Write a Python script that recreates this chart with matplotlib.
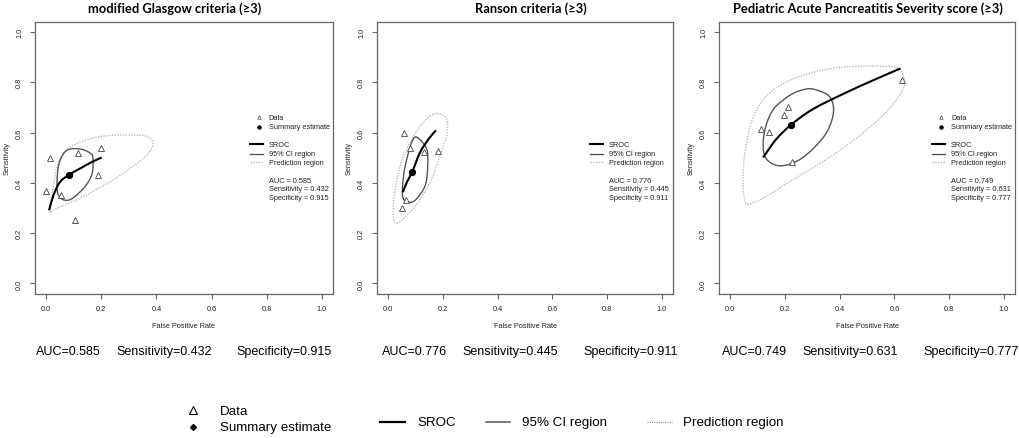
#!/usr/bin/env python3
"""
Bivariate SROC plots for three severity scores (modified Glasgow, Ranson,
Pediatric Acute Pancreatitis Severity score), R/mada style, with the
summary numbers written under each panel and a shared legend at the bottom.

Output: out.png (1020 x 439 px)
"""

import matplotlib
matplotlib.use("Agg")
import matplotlib.pyplot as plt
import matplotlib.font_manager as fm
from matplotlib.path import Path
from matplotlib.patches import PathPatch
from matplotlib.lines import Line2D
import numpy as np

W, H, DPI = 1020, 439, 100

# ── Fonts ─────────────────────────────────────────────────────────────────────
available_fonts = {f.name for f in fm.fontManager.ttflist}
R_FONT = "Liberation Sans" if "Liberation Sans" in available_fonts else "DejaVu Sans"
NARROW = "Liberation Sans Narrow" if "Liberation Sans Narrow" in available_fonts else R_FONT
TITLE_FONT = ["Lato", "DejaVu Sans"] if "Lato" in available_fonts else ["DejaVu Sans"]

plt.rcParams.update({
    "font.family": R_FONT,
    "figure.facecolor": "white",
    "axes.facecolor": "white",
})

# ── Palette ───────────────────────────────────────────────────────────────────
FRAME = "#666666"
CI_GRAY = "#555555"
PRED_GRAY = "#b8b8b8"
POINT_EDGE = "#444444"

# ── Data ──────────────────────────────────────────────────────────────────────
TITLES = ["modified Glasgow criteria (\u22653)", "Ranson criteria (\u22653)",
          "Pediatric Acute Pancreatitis Severity score (\u22653)"]
AUC = [0.585, 0.776, 0.749]
SENS = [0.432, 0.445, 0.631]
SPEC = [0.915, 0.911, 0.777]
TICKS = [0.0, 0.2, 0.4, 0.6, 0.8, 1.0]

# modified Glasgow
GLA_FPR = [0.015, 0.117, 0.200, 0.187, 0.000, 0.054, 0.105]
GLA_TPR = [0.500, 0.520, 0.540, 0.430, 0.367, 0.351, 0.252]
GLA_SROC_X = [0.011, 0.027, 0.051, 0.085, 0.123, 0.166, 0.202]
GLA_SROC_Y = [0.291, 0.351, 0.404, 0.433, 0.457, 0.483, 0.501]
GLA_CI_X = [0.170, 0.167, 0.141, 0.094, 0.062, 0.043, 0.040, 0.047, 0.069, 0.098, 0.134, 0.163]
GLA_CI_Y = [0.496, 0.437, 0.385, 0.337, 0.333, 0.357, 0.409, 0.476, 0.524, 0.536, 0.532, 0.516]
GLA_PR_X = [0.015, 0.033, 0.141, 0.261, 0.359, 0.388, 0.365, 0.322, 0.232, 0.160, 0.099,
            0.063, 0.041, 0.027]
GLA_PR_Y = [0.288, 0.296, 0.349, 0.425, 0.504, 0.556, 0.585, 0.590, 0.589, 0.576, 0.550,
            0.517, 0.470, 0.391]

# Ranson
RAN_FPR = [0.059, 0.081, 0.133, 0.184, 0.065, 0.051]
RAN_TPR = [0.600, 0.540, 0.521, 0.525, 0.332, 0.301]
RAN_SROC_X = [0.054, 0.070, 0.089, 0.117, 0.148, 0.175]
RAN_SROC_Y = [0.363, 0.405, 0.445, 0.521, 0.574, 0.609]
RAN_CI_X = [0.105, 0.141, 0.145, 0.136, 0.099, 0.069, 0.053, 0.057, 0.069, 0.087]
RAN_CI_Y = [0.582, 0.536, 0.469, 0.390, 0.331, 0.325, 0.350, 0.429, 0.496, 0.562]
RAN_PR_X = [0.178, 0.214, 0.214, 0.190, 0.160, 0.111, 0.063, 0.033, 0.021, 0.021, 0.039,
            0.063, 0.111, 0.148]
RAN_PR_Y = [0.675, 0.655, 0.588, 0.509, 0.417, 0.324, 0.265, 0.239, 0.258, 0.337, 0.443,
            0.523, 0.615, 0.661]

# Pediatric Acute Pancreatitis Severity score
PAP_FPR = [0.112, 0.141, 0.196, 0.211, 0.227, 0.626]
PAP_TPR = [0.616, 0.603, 0.669, 0.703, 0.484, 0.811]
PAP_SROC_X = [0.121, 0.169, 0.223, 0.302, 0.423, 0.543, 0.622]
PAP_SROC_Y = [0.501, 0.574, 0.631, 0.693, 0.759, 0.818, 0.855]
PAP_CI_X = [0.308, 0.362, 0.378, 0.356, 0.308, 0.247, 0.181, 0.133, 0.121, 0.133, 0.163,
            0.224, 0.272]
PAP_CI_Y = [0.772, 0.745, 0.686, 0.607, 0.541, 0.488, 0.468, 0.495, 0.554, 0.633, 0.699,
            0.752, 0.772]
PAP_PR_X = [0.610, 0.634, 0.628, 0.562, 0.465, 0.344, 0.224, 0.127, 0.072, 0.054, 0.048,
            0.054, 0.079, 0.127, 0.199, 0.296, 0.405, 0.513]
PAP_PR_Y = [0.858, 0.818, 0.765, 0.673, 0.581, 0.488, 0.409, 0.343, 0.317, 0.330, 0.409,
            0.514, 0.646, 0.739, 0.798, 0.838, 0.860, 0.864]

PANELS = [
    dict(fpr=GLA_FPR, tpr=GLA_TPR, sroc=(GLA_SROC_X, GLA_SROC_Y),
         ci=(GLA_CI_X, GLA_CI_Y), pred=(GLA_PR_X, GLA_PR_Y), show_points_key=True),
    dict(fpr=RAN_FPR, tpr=RAN_TPR, sroc=(RAN_SROC_X, RAN_SROC_Y),
         ci=(RAN_CI_X, RAN_CI_Y), pred=(RAN_PR_X, RAN_PR_Y), show_points_key=False),
    dict(fpr=PAP_FPR, tpr=PAP_TPR, sroc=(PAP_SROC_X, PAP_SROC_Y),
         ci=(PAP_CI_X, PAP_CI_Y), pred=(PAP_PR_X, PAP_PR_Y), show_points_key=True),
]

# ── Layout (pixels) ───────────────────────────────────────────────────────────
AX_LEFT = [35, 377, 719]
AX_WIDTH = [298, 296, 296]
AX_TOP, AX_BOTTOM = 23, 294.5
YLABEL_OFFSET = 28          # px left of the frame
TITLE_CX = [175, 531, 868]
STAT_X = [[36, 116, 236], [382, 462, 583], [722, 802, 923]]
STAT_Y = 352


def fx(px):
    return px / W


def fy(py):
    return 1 - py / H


def smooth_path(xs, ys, closed):
    """Catmull-Rom through the read points, as cubic Bezier segments."""
    pts = np.column_stack([xs, ys]).astype(float)
    n = len(pts)
    if closed:
        get = lambda i: pts[i % n]
        segs = n
    else:
        get = lambda i: pts[min(max(i, 0), n - 1)]
        segs = n - 1
    verts, codes = [pts[0]], [Path.MOVETO]
    for i in range(segs):
        p0, p1, p2, p3 = get(i - 1), get(i), get(i + 1), get(i + 2)
        verts += [p1 + (p2 - p0) / 6, p2 - (p3 - p1) / 6, p2]
        codes += [Path.CURVE4] * 3
    return Path(verts, codes)


def draw_panel(ax, k, p):
    ax.set_xlim(-0.04, 1.04)
    ax.set_ylim(-0.04, 1.04)
    ax.set_xticks(TICKS)
    ax.set_yticks(TICKS)
    ax.set_xticklabels([f"{t:.1f}" for t in TICKS])
    ax.set_yticklabels([f"{t:.1f}" for t in TICKS])
    for sp in ax.spines.values():
        sp.set_color(FRAME)
        sp.set_linewidth(0.9)
    ax.tick_params(direction="out", length=3.5, width=0.8, color=FRAME,
                   labelsize=5.3, labelcolor="#222222", pad=5)
    ax.tick_params(axis="y", labelrotation=90)
    for lbl in ax.get_yticklabels():
        lbl.set_va("center")

    ax.set_xlabel("False Positive Rate", fontsize=5.3, color="#222222", va="center")
    ax.xaxis.set_label_coords(0.5, -(327 - AX_BOTTOM) / (AX_BOTTOM - AX_TOP))
    ax.set_ylabel("Sensitivity", fontsize=5.3, color="#222222", va="center")
    ax.yaxis.set_label_coords(-YLABEL_OFFSET / AX_WIDTH[k], 0.5)

    # prediction region, confidence region, SROC
    ax.add_patch(PathPatch(smooth_path(*p["pred"], closed=True), fill=False,
                           edgecolor=PRED_GRAY, lw=1.0, linestyle=(0, (1, 1))))
    ax.add_patch(PathPatch(smooth_path(*p["ci"], closed=True), fill=False,
                           edgecolor=CI_GRAY, lw=1.0))
    ax.add_patch(PathPatch(smooth_path(*p["sroc"], closed=False), fill=False,
                           edgecolor="black", lw=1.5))

    ax.plot(p["fpr"], p["tpr"], linestyle="none", marker="^", markersize=3.8,
            markerfacecolor="white", markeredgecolor=POINT_EDGE, markeredgewidth=0.6)
    ax.plot([1 - SPEC[k]], [SENS[k]], linestyle="none", marker="o",
            markersize=4.2, color="black")

    # in-panel legend, R style
    tx, mx, l0, l1 = 0.807, 0.770, 0.738, 0.786
    fs = 5.3
    if p["show_points_key"]:
        ax.plot([mx], [0.661], marker="^", markersize=2.5, markerfacecolor="white",
                markeredgecolor=POINT_EDGE, markeredgewidth=0.5, linestyle="none")
        ax.text(tx, 0.661, "Data", fontsize=fs, va="center", color="#222222")
        ax.plot([mx], [0.623], marker="o", markersize=2.2, color="black", linestyle="none")
        ax.text(tx, 0.623, "Summary estimate", fontsize=fs, va="center", color="#222222")
    ax.plot([l0, l1], [0.553, 0.553], color="black", lw=1.5)
    ax.text(tx, 0.553, "SROC", fontsize=fs, va="center", color="#222222")
    ax.plot([l0, l1], [0.516, 0.516], color=CI_GRAY, lw=1.0)
    ax.text(tx, 0.516, "95% CI region", fontsize=fs, va="center", color="#222222")
    ax.plot([l0, l1], [0.482, 0.482], color=PRED_GRAY, lw=1.0, linestyle=(0, (1, 1)))
    ax.text(tx, 0.482, "Prediction region", fontsize=fs, va="center", color="#222222")
    ax.text(tx, 0.410, f"AUC = {AUC[k]:.3f}", fontsize=fs, va="center", color="#222222")
    ax.text(tx, 0.376, f"Sensitivity = {SENS[k]:.3f}", fontsize=fs, va="center",
            color="#222222")
    ax.text(tx, 0.341, f"Specificity = {SPEC[k]:.3f}", fontsize=fs, va="center",
            color="#222222")


def make_figure():
    fig = plt.figure(figsize=(W / DPI, H / DPI), dpi=DPI)
    renderer = fig.canvas.get_renderer()

    titles = []
    for k, p in enumerate(PANELS):
        ax = fig.add_axes([fx(AX_LEFT[k]), fy(AX_BOTTOM), fx(AX_WIDTH[k]),
                           (AX_BOTTOM - AX_TOP) / H])
        draw_panel(ax, k, p)
        titles.append(fig.text(fx(TITLE_CX[k]), fy(9), TITLES[k], ha="center",
                               va="center", fontsize=10, fontweight="bold",
                               family=TITLE_FONT))

    # scale title font so the long title spans what it does in the original
    w = titles[2].get_window_extent(renderer).width
    size = 10 * 270 / w
    for t in titles:
        t.set_fontsize(size)

    # summary line under each panel
    stats = []
    for k in range(3):
        parts = [f"AUC={AUC[k]:.3f}", f"Sensitivity={SENS[k]:.3f}",
                 f"Specificity={SPEC[k]:.3f}"]
        for x, s in zip(STAT_X[k], parts):
            stats.append(fig.text(fx(x), fy(STAT_Y), s, ha="left", va="center",
                                  fontsize=10, family=NARROW, color="black"))
    w = stats[1].get_window_extent(renderer).width
    size = 10 * 95 / w
    for t in stats:
        t.set_fontsize(size)

    # shared legend at the bottom
    fs = 9.6
    fig.add_artist(Line2D([fx(193)], [fy(411)], marker="^", markersize=5.5,
                          markerfacecolor="white", markeredgecolor="black",
                          markeredgewidth=0.8, linestyle="none"))
    fig.text(fx(220), fy(412), "Data", fontsize=fs, va="center")
    fig.add_artist(Line2D([fx(193)], [fy(428)], marker="D", markersize=3,
                          color="black", linestyle="none"))
    fig.text(fx(220), fy(428), "Summary estimate", fontsize=fs, va="center")

    fig.add_artist(Line2D([fx(380), fx(405)], [fy(423), fy(423)], color="black", lw=1.6))
    fig.text(fx(417), fy(423), "SROC", fontsize=fs, va="center")
    fig.add_artist(Line2D([fx(486), fx(510)], [fy(423), fy(423)], color=CI_GRAY, lw=1.1))
    fig.text(fx(522), fy(423), "95% CI region", fontsize=fs, va="center")
    fig.add_artist(Line2D([fx(647), fx(672)], [fy(423), fy(423)], color="#888888",
                          lw=0.8, linestyle=(0, (1, 1))))
    fig.text(fx(683), fy(423), "Prediction region", fontsize=fs, va="center")

    fig.savefig("out.png", dpi=DPI)
    plt.close(fig)


if __name__ == "__main__":
    make_figure()
